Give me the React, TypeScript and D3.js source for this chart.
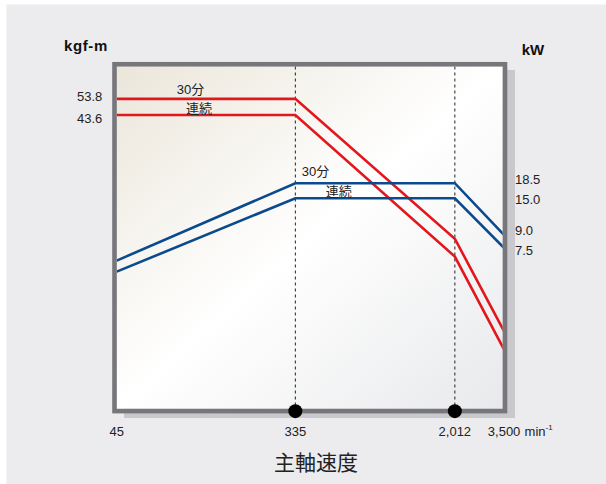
import React from "react";
import * as d3 from "d3";

// ---- data ----
const SPEEDS = [45, 335, 2012, 3500];
const SPEED_LABELS = ["45", "335", "2,012", "3,500"];
const MARKER_SPEEDS = [335, 2012];

const TORQUE_30MIN = [53.8, 53.8, 8.7, 2.6];
const TORQUE_CONT = [43.6, 43.6, 6.9, 2.05];
const POWER_30MIN = [6.3, 18.5, 18.5, 9.0];
const POWER_CONT = [5.4, 15.0, 15.0, 7.5];

const TORQUE_TICKS = [53.8, 43.6];
const TORQUE_TICK_LABELS = ["53.8", "43.6"];
const POWER_TICKS = [18.5, 15.0, 9.0, 7.5];
const POWER_TICK_LABELS = ["18.5", "15.0", "9.0", "7.5"];

const SERIES_LABELS = ["30分", "連続"];

// ---- layout / style ----
const W = 606;
const H = 484;
const INNER = { left: 116.75, top: 66.5, right: 502.75, bottom: 408.75 };
const RED = "#e3161c";
const BLUE = "#0c4a8e";
const FRAME = "#77767b";
const TEXT = "#222";
const NUM_FONT = "'Liberation Sans', Arial, sans-serif";
const CJK_FONT = "'Liberation Sans', 'Noto Sans CJK JP', sans-serif";
const LEFT_TICK_DY = [2.6, 8.3];
const RIGHT_TICK_DY = [1, 6, 0.5, 6.5];

export default function App() {
  const x = d3.scaleLog().domain([45, 3500]).range([INNER.left, 504.1]);
  const yT = d3.scaleLog().domain([0.95, 82]).range([INNER.bottom, INNER.top]);
  const yP = d3.scaleLog().domain([0.8, 94]).range([INNER.bottom, INNER.top]);

  const torqueLine = d3
    .line<number>()
    .x((_, i) => x(SPEEDS[i]))
    .y((d) => yT(d));
  const powerLine = d3
    .line<number>()
    .x((_, i) => x(SPEEDS[i]))
    .y((d) => yP(d));

  const frameMidBottom = (INNER.bottom + 413.5) / 2;

  return (
    <svg
      width={W}
      height={H}
      viewBox={`0 0 ${W} ${H}`}
      style={{ position: "absolute", left: 0, top: 0, background: "#fff" }}
    >
      <defs>
        <linearGradient id="plotBg" x1="0" y1="0" x2="1" y2="1">
          <stop offset="0" stopColor="#ebe6da" />
          <stop offset="0.5" stopColor="#ffffff" />
          <stop offset="1" stopColor="#e8e9eb" />
        </linearGradient>
        <clipPath id="plotClip">
          <rect
            x={INNER.left}
            y={INNER.top}
            width={INNER.right - INNER.left}
            height={INNER.bottom - INNER.top}
          />
        </clipPath>
      </defs>

      {/* outer panel */}
      <rect x={6.5} y={4.5} width={W - 6.5} height={H - 4.5} fill="#ececee" />

      {/* shadow */}
      <rect x={124} y={70} width={515 - 124} height={418 - 70} fill="#c9c9cd" />

      {/* plot background */}
      <rect
        x={INNER.left}
        y={INNER.top}
        width={INNER.right - INNER.left}
        height={INNER.bottom - INNER.top}
        fill="url(#plotBg)"
      />

      {/* dashed reference lines */}
      {MARKER_SPEEDS.map((s) => (
        <line
          key={"d" + s}
          x1={x(s)}
          x2={x(s)}
          y1={INNER.top}
          y2={INNER.bottom}
          stroke="#222"
          strokeWidth={1}
          strokeDasharray="3,3"
        />
      ))}

      {/* curves */}
      <g clipPath="url(#plotClip)" fill="none" strokeWidth={2.6} strokeLinejoin="miter">
        <path d={torqueLine(TORQUE_30MIN) || ""} stroke={RED} />
        <path d={torqueLine(TORQUE_CONT) || ""} stroke={RED} />
        <path d={powerLine(POWER_30MIN) || ""} stroke={BLUE} />
        <path d={powerLine(POWER_CONT) || ""} stroke={BLUE} />
      </g>

      {/* frame */}
      <rect
        x={114.5}
        y={64.25}
        width={505 - 114.5}
        height={411.1 - 64.25}
        fill="none"
        stroke={FRAME}
        strokeWidth={4.6}
      />

      {/* markers */}
      {MARKER_SPEEDS.map((s) => (
        <circle key={"c" + s} cx={x(s)} cy={frameMidBottom} r={7} fill="#000" />
      ))}

      {/* series labels */}
      <g fontFamily={CJK_FONT} fontSize={13} fill={TEXT}>
        <text x={x(45) + 60} y={yT(TORQUE_30MIN[0]) - 5}>
          {SERIES_LABELS[0]}
        </text>
        <text x={x(45) + 69.3} y={yT(TORQUE_CONT[0]) - 2}>
          {SERIES_LABELS[1]}
        </text>
        <text x={x(335) + 6.5} y={yP(POWER_30MIN[1]) - 7}>
          {SERIES_LABELS[0]}
        </text>
        <text x={x(335) + 30.5} y={yP(POWER_30MIN[1]) + 13}>
          {SERIES_LABELS[1]}
        </text>
      </g>

      {/* tick labels */}
      <g fontFamily={NUM_FONT} fontSize={13} fill={TEXT}>
        {TORQUE_TICKS.map((t, i) => (
          <text key={"lt" + i} x={102.3} y={yT(t) + LEFT_TICK_DY[i]} textAnchor="end">
            {TORQUE_TICK_LABELS[i]}
          </text>
        ))}
        {POWER_TICKS.map((t, i) => (
          <text key={"rt" + i} x={515} y={yP(t) + RIGHT_TICK_DY[i]}>
            {POWER_TICK_LABELS[i]}
          </text>
        ))}
        {SPEEDS.map((s, i) => (
          <text key={"xt" + i} x={x(s)} y={436} textAnchor="middle">
            {SPEED_LABELS[i]}
          </text>
        ))}
        <text x={x(3500) + 20.5} y={436}>
          min
          <tspan dy={-6} fontSize={8}>
            -1
          </tspan>
        </text>
      </g>

      {/* axis units */}
      <g fontFamily={NUM_FONT} fontWeight="bold" fontSize={15} fill="#111">
        <text x={64} y={51} letterSpacing={0.6}>
          kgf-m
        </text>
        <text x={521.7} y={55}>
          kW
        </text>
      </g>

      {/* x-axis title */}
      <text
        x={316}
        y={470}
        textAnchor="middle"
        fontFamily="'Noto Sans CJK JP', sans-serif"
        fontSize={21}
        fill={TEXT}
      >
        主軸速度
      </text>
    </svg>
  );
}
